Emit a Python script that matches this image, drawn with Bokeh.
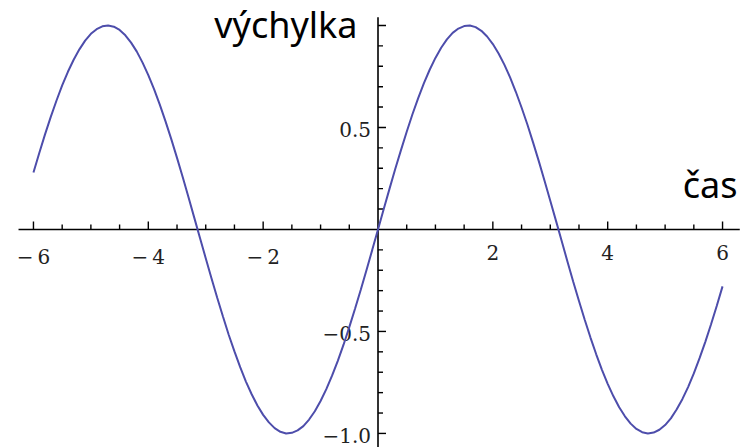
from bokeh.plotting import figure
from bokeh.models import Range1d, Label
from bokeh.core.properties import value
from bokeh.embed import file_html
from bokeh.resources import INLINE

# Sampled displacement over time
cas = [-6.0, -5.9, -5.8, -5.7, -5.6, -5.5, -5.4, -5.3, -5.2, -5.1,
       -5.0, -4.9, -4.8, -4.7, -4.6, -4.5, -4.4, -4.3, -4.2, -4.1,
       -4.0, -3.9, -3.8, -3.7, -3.6, -3.5, -3.4, -3.3, -3.2, -3.1,
       -3.0, -2.9, -2.8, -2.7, -2.6, -2.5, -2.4, -2.3, -2.2, -2.1,
       -2.0, -1.9, -1.8, -1.7, -1.6, -1.5, -1.4, -1.3, -1.2, -1.1,
       -1.0, -0.9, -0.8, -0.7, -0.6, -0.5, -0.4, -0.3, -0.2, -0.1,
       0.0, 0.1, 0.2, 0.3, 0.4, 0.5, 0.6, 0.7, 0.8, 0.9,
       1.0, 1.1, 1.2, 1.3, 1.4, 1.5, 1.6, 1.7, 1.8, 1.9,
       2.0, 2.1, 2.2, 2.3, 2.4, 2.5, 2.6, 2.7, 2.8, 2.9,
       3.0, 3.1, 3.2, 3.3, 3.4, 3.5, 3.6, 3.7, 3.8, 3.9,
       4.0, 4.1, 4.2, 4.3, 4.4, 4.5, 4.6, 4.7, 4.8, 4.9,
       5.0, 5.1, 5.2, 5.3, 5.4, 5.5, 5.6, 5.7, 5.8, 5.9, 6.0]
vychylka = [0.279, 0.374, 0.465, 0.551, 0.631, 0.706, 0.773, 0.832, 0.883, 0.926,
            0.959, 0.982, 0.996, 1.000, 0.994, 0.978, 0.952, 0.916, 0.872, 0.818,
            0.757, 0.688, 0.612, 0.530, 0.443, 0.351, 0.256, 0.158, 0.058, -0.042,
            -0.141, -0.239, -0.335, -0.427, -0.516, -0.598, -0.675, -0.746, -0.808, -0.863,
            -0.909, -0.946, -0.974, -0.992, -1.000, -0.997, -0.985, -0.964, -0.932, -0.891,
            -0.841, -0.783, -0.717, -0.644, -0.565, -0.479, -0.389, -0.296, -0.199, -0.100,
            0.000, 0.100, 0.199, 0.296, 0.389, 0.479, 0.565, 0.644, 0.717, 0.783,
            0.841, 0.891, 0.932, 0.964, 0.985, 0.997, 1.000, 0.992, 0.974, 0.946,
            0.909, 0.863, 0.808, 0.746, 0.675, 0.598, 0.516, 0.427, 0.335, 0.239,
            0.141, 0.042, -0.058, -0.158, -0.256, -0.351, -0.443, -0.530, -0.612, -0.688,
            -0.757, -0.818, -0.872, -0.916, -0.952, -0.978, -0.994, -1.000, -0.996, -0.982,
            -0.959, -0.926, -0.883, -0.832, -0.773, -0.706, -0.631, -0.551, -0.465, -0.374, -0.279]

# Axis ticks
x_major = [-6, -4, -2, 2, 4, 6]
x_major_labels = ["\u2212\u20096", "\u2212\u20094", "\u2212\u20092", "2", "4", "6"]
x_minor = [-5.5, -5, -4.5, -3.5, -3, -2.5, -1.5, -1, -0.5,
           0.5, 1, 1.5, 2.5, 3, 3.5, 4.5, 5, 5.5]
y_major = [-1.0, -0.5, 0.5, 1.0]
y_labeled = [0.5, -0.5, -1.0]
y_labels = ["0.5", "\u22120.5", "\u22121.0"]
y_minor = [-0.9, -0.8, -0.7, -0.6, -0.4, -0.3, -0.2, -0.1,
           0.1, 0.2, 0.3, 0.4, 0.6, 0.7, 0.8, 0.9]

W, H = 748, 447
p = figure(width=W, height=H, output_backend="svg", toolbar_location=None,
           x_range=Range1d(-6.574, 6.452), y_range=Range1d(-1.069, 1.1225),
           x_axis_location=None, y_axis_location=None, min_border=0)
p.grid.visible = False
p.outline_line_color = None
p.background_fill_color = "white"
p.border_fill_color = "white"

# Axes drawn through the origin
p.segment(x0=[-6.26], y0=[0], x1=[6.3], y1=[0], line_color="black", line_width=1.6)
p.segment(x0=[0], y0=[-1.07], x1=[0], y1=[1.04], line_color="black", line_width=1.6)

# x ticks point up, y ticks point right
p.ray(x=x_major, y=[0] * len(x_major), length=8, length_units="screen",
      angle=1.5708, line_color="black", line_width=1.4)
p.ray(x=x_minor, y=[0] * len(x_minor), length=5, length_units="screen",
      angle=1.5708, line_color="black", line_width=1.4)
p.ray(x=[0] * len(y_major), y=y_major, length=8, length_units="screen",
      angle=0, line_color="black", line_width=1.4)
p.ray(x=[0] * len(y_minor), y=y_minor, length=5, length_units="screen",
      angle=0, line_color="black", line_width=1.4)

p.text(x=x_major, y=[0] * len(x_major), text=x_major_labels,
       text_font=value("DejaVu Serif"), text_font_size="20px",
       text_color="#222222", text_align="center", text_baseline="top",
       y_offset=16)
p.text(x=[0] * len(y_labeled), y=y_labeled, text=y_labels,
       text_font=value("DejaVu Serif"), text_font_size="20px",
       text_color="#222222", text_align="right", text_baseline="middle",
       x_offset=-7, y_offset=2)

# The curve
p.line(cas, vychylka, line_color="#4d4dab", line_width=2)

p.add_layout(Label(x=357, y=H - 24, x_units="screen", y_units="screen",
                   text="výchylka", text_font="Noto Sans", text_font_size="36px",
                   text_color="black", text_align="right",
                   text_baseline="alphabetic"))
p.add_layout(Label(x=737, y=H - 184, x_units="screen", y_units="screen",
                   text="čas", text_font="Noto Sans", text_font_size="36px",
                   text_color="black", text_align="right",
                   text_baseline="alphabetic"))

open("out.html", "w").write(file_html(p, INLINE))
